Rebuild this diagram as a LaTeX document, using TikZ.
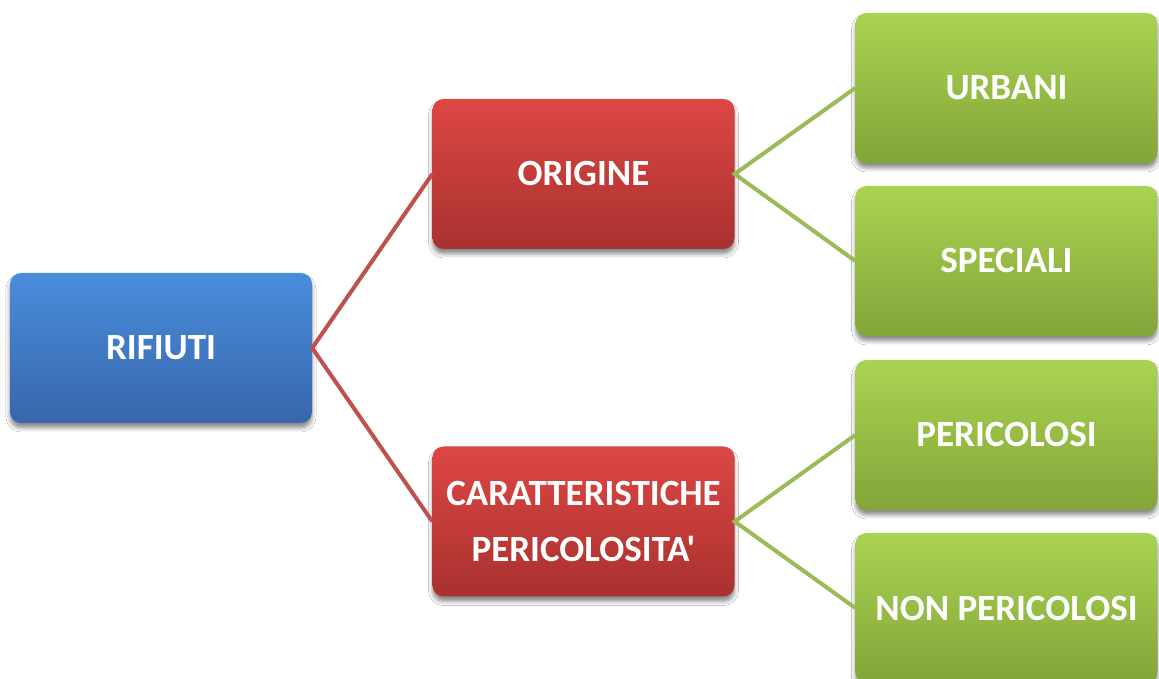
\documentclass[tikz,border=0pt]{standalone}
\usepackage{fontspec}
\newfontfamily\calfont{Carlito}
\usetikzlibrary{shadows.blur}
\definecolor{bluetop}{HTML}{4A8DDB}
\definecolor{bluebot}{HTML}{3766AC}
\definecolor{redtop}{HTML}{DC4744}
\definecolor{redbot}{HTML}{A9312F}
\definecolor{greentop}{HTML}{AAD352}
\definecolor{greenbot}{HTML}{82A538}
\definecolor{redline}{HTML}{C0504D}
\definecolor{greenline}{HTML}{9BBB59}
\tikzset{
  box/.style={rectangle, rounded corners=11pt, minimum width=302pt, minimum height=150pt,
    inner sep=0pt, align=center, text=white, font=\calfont\fontsize{37}{56}\selectfont\bfseries,
    blur shadow={shadow xshift=0pt, shadow yshift=-5pt, shadow blur radius=4pt, shadow opacity=45}},
  bluebox/.style={box, top color=bluetop, bottom color=bluebot},
  redbox/.style={box, top color=redtop, bottom color=redbot},
  greenbox/.style={box, top color=greentop, bottom color=greenbot},
  redconn/.style={draw=redline, line width=4pt},
  greenconn/.style={draw=greenline, line width=4pt},
}
\begin{document}
\begin{tikzpicture}[x=1pt,y=1pt]
\useasboundingbox (0,0) rectangle (1159,679);
\clip (0,0) rectangle (1159,679);
\fill[white] (0,0) rectangle (1159,679);
\node[bluebox] (rif) at (161,331) {RIFIUTI};
\node[redbox] (orig) at (583.5,505) {ORIGINE};
\node[redbox] (car) at (583.5,157.5) {CARATTERISTICHE\\PERICOLOSITA'};
\node[greenbox] (urb) at (1006.5,591) {URBANI};
\node[greenbox] (spe) at (1006.5,418) {SPECIALI};
\node[greenbox] (per) at (1006.5,244) {PERICOLOSI};
\node[greenbox] (non) at (1006.5,71) {NON PERICOLOSI};
\draw[redconn] (orig.west) -- (rif.east) -- (car.west);
\draw[greenconn] (urb.west) -- (orig.east) -- (spe.west);
\draw[greenconn] (per.west) -- (car.east) -- (non.west);
\end{tikzpicture}
\end{document}
